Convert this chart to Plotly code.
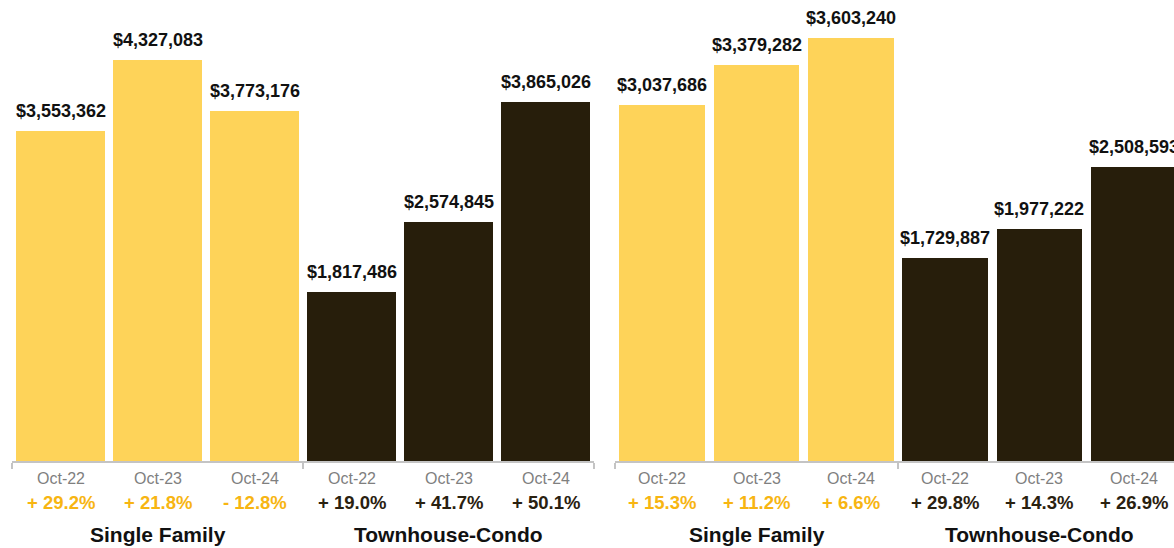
import plotly.graph_objects as go

# Median sales price by property type, two markets side by side
periods = ["Oct-22", "Oct-23", "Oct-24"]
groups = ["Single Family", "Townhouse-Condo"]

left_single = [3553362, 4327083, 3773176]
left_condo = [1817486, 2574845, 3865026]
left_single_pct = ["+ 29.2%", "+ 21.8%", "- 12.8%"]
left_condo_pct = ["+ 19.0%", "+ 41.7%", "+ 50.1%"]

right_single = [3037686, 3379282, 3603240]
right_condo = [1729887, 1977222, 2508593]
right_single_pct = ["+ 15.3%", "+ 11.2%", "+ 6.6%"]
right_condo_pct = ["+ 29.8%", "+ 14.3%", "+ 26.9%"]

YELLOW = "#FED359"
DARK = "#271E0B"
PCT_YELLOW = "#F7B512"
PCT_DARK = "#2A2110"
AXIS_GRAY = "#C4C4C4"
LABEL_GRAY = "#7F7F7F"
FONT = "Liberation Sans, Arial, sans-serif"

W, H = 1174, 548
BASE = 461  # pixel row of the baseline

panels = [
    dict(single=left_single, condo=left_condo, spct=left_single_pct, cpct=left_condo_pct,
         px0=12, px1=594, slot=97.0, ymax=4.97e6, width=0.915),
    dict(single=right_single, condo=right_condo, spct=right_single_pct, cpct=right_condo_pct,
         px0=615, px1=W, slot=94.33, ymax=3.93e6, width=0.91),
]

fig = go.Figure()
annotations = []

for k, p in enumerate(panels):
    xa = "x" if k == 0 else "x2"
    ya = "y" if k == 0 else "y2"
    values = p["single"] + p["condo"]
    colors = [YELLOW] * 3 + [DARK] * 3
    xs = list(range(6))
    fig.add_trace(go.Bar(
        x=xs, y=values, marker=dict(color=colors, line=dict(width=0)),
        width=p["width"], xaxis=xa, yaxis=ya, showlegend=False, hoverinfo="skip",
    ))
    pcts = p["spct"] + p["cpct"]
    pct_colors = [PCT_YELLOW] * 3 + [PCT_DARK] * 3
    for i, v in enumerate(values):
        annotations.append(dict(
            x=i, y=v, xref=xa, yref=ya, text="<b>${:,}</b>".format(v),
            showarrow=False, yanchor="middle", yshift=20,
            font=dict(family=FONT, size=18, color="#111111"),
        ))
        annotations.append(dict(
            x=i, y=0, xref=xa, yref=ya, text=periods[i % 3],
            showarrow=False, yanchor="middle", yshift=-17,
            font=dict(family=FONT, size=16, color=LABEL_GRAY),
        ))
        annotations.append(dict(
            x=i, y=0, xref=xa, yref=ya, text="<b>" + pcts[i] + "</b>",
            showarrow=False, yanchor="middle", yshift=-41,
            font=dict(family=FONT, size=18.5, color=pct_colors[i]),
        ))
    for g, name in enumerate(groups):
        annotations.append(dict(
            x=1 + 3 * g, y=0, xref=xa, yref=ya, text="<b>" + name + "</b>",
            showarrow=False, yanchor="middle", yshift=-73,
            font=dict(family=FONT, size=21, color="#111111"),
        ))

    xmax = (p["px1"] - p["px0"]) / p["slot"] - 0.5
    # baseline with ticks marking the group boundaries
    axis_x = dict(domain=[p["px0"] / W, p["px1"] / W], range=[-0.5, xmax],
                  showticklabels=False, showgrid=False, zeroline=False,
                  showline=True, linecolor=AXIS_GRAY, linewidth=2,
                  ticks="outside", tickmode="array", tickvals=[-0.5, 2.5, 5.5],
                  ticklen=6, tickwidth=2, tickcolor=AXIS_GRAY, fixedrange=True)
    axis_y = dict(domain=[0, 1], range=[0, p["ymax"]], showticklabels=False,
                  showgrid=False, zeroline=False, showline=False, fixedrange=True)
    if k == 0:
        fig.update_layout(xaxis=dict(axis_x, anchor="y"), yaxis=dict(axis_y, anchor="x"))
    else:
        fig.update_layout(xaxis2=dict(axis_x, anchor="y2"), yaxis2=dict(axis_y, anchor="x2"))

fig.update_layout(
    width=W, height=H,
    margin=dict(l=0, r=0, t=0, b=H - BASE),
    paper_bgcolor="white", plot_bgcolor="white",
    bargap=0, annotations=annotations,
    font=dict(family=FONT),
)

fig.write_html("out.html")
